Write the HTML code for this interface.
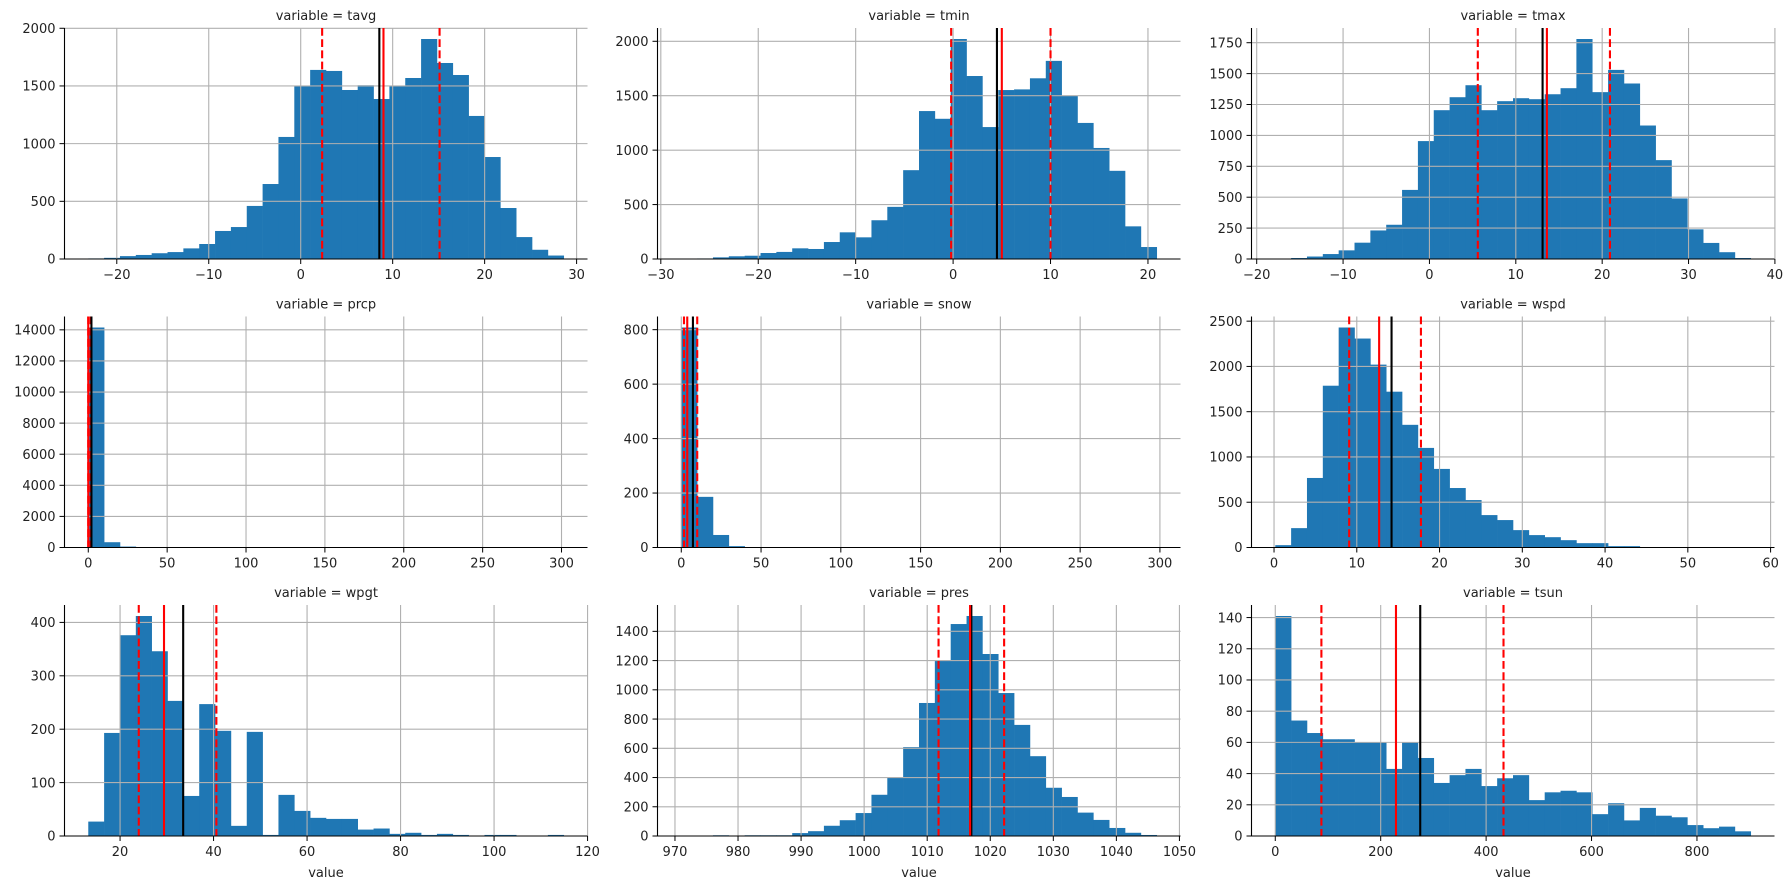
<!DOCTYPE html>
<html><head><meta charset="utf-8"><title>Weather variable histograms</title>
<style>
html,body{margin:0;padding:0;background:#fff;}
svg{display:block;font-family:"DejaVu Sans","Liberation Sans",sans-serif;}
</style></head>
<body>
<svg id="chart" width="1790" height="889" viewBox="0 0 1790 889" xmlns="http://www.w3.org/2000/svg"></svg>
<script>
// ---- data ----
const tavgCounts=[5,10,25,35,50,60,92,130,243,277,460,650,1058,1497,1639,1630,1465,1506,1387,1497,1569,1907,1699,1595,1240,884,442,190,80,30];
const tavgRange=[-23.1,28.6];
const tavgStats=[2.33,9.0,8.55,15.1];
const tavgXTicks=[-20,-10,0,10,20,30];
const tavgYTicks=[0,500,1000,1500,2000];

const tminCounts=[3,5,15,25,30,55,65,98,92,156,245,199,356,479,816,1359,1288,2021,1681,1212,1552,1558,1660,1820,1500,1250,1020,810,300,110];
const tminRange=[-27.9,20.9];
const tminStats=[-0.2,5.0,4.5,10.0];
const tminXTicks=[-30,-20,-10,0,10,20];
const tminYTicks=[0,500,1000,1500,2000];

const tmaxCounts=[3,8,20,40,70,132,231,277,559,954,1204,1309,1406,1204,1277,1301,1293,1333,1382,1780,1350,1530,1420,1080,800,490,240,130,55,8];
const tmaxRange=[-17.85,37.2];
const tmaxStats=[5.6,13.6,13.1,20.9];
const tmaxXTicks=[-20,-10,0,10,20,30,40];
const tmaxYTicks=[0,250,500,750,1000,1250,1500,1750];

const prcpCounts=[14150,340,60,10,3,1,0,0,0,0,0,0,0,0,0,0,0,0,0,0,0,0,0,0,0,0,0,0,0,1];
const prcpRange=[0,301.4];
const prcpStats=[0,0,2.0,1.5];
const prcpXTicks=[0,50,100,150,200,250,300];
const prcpYTicks=[0,2000,4000,6000,8000,10000,12000,14000];

const snowCounts=[808,186,46,5,1,0,0,0,0,0,0,0,0,0,0,0,0,0,0,0,0,0,0,0,0,0,0,0,0,1];
const snowRange=[0,298];
const snowStats=[1.7,3.75,7.3,10.0];
const snowXTicks=[0,50,100,150,200,250,300];
const snowYTicks=[0,200,400,600,800];

const wspdCounts=[26,214,768,1787,2430,2308,2020,1721,1355,1100,868,657,524,358,303,192,137,114,81,48,48,15,15,5,3,2,1,1,0,1];
const wspdRange=[0.15,57.6];
const wspdStats=[9.08,12.7,14.2,17.75];
const wspdXTicks=[0,10,20,30,40,50,60];
const wspdYTicks=[0,500,1000,1500,2000,2500];

const wpgtCounts=[27,193,376,412,346,253,75,247,197,19,195,2,77,47,34,32,32,12,14,4,6,2,4,2,0,2,2,0,0,2];
const wpgtRange=[13.2,114.9];
const wpgtStats=[24.0,29.4,33.5,40.6];
const wpgtXTicks=[20,40,60,80,100,120];
const wpgtYTicks=[0,100,200,300,400];

const presCounts=[0,1,5,0,5,5,5,20,33,70,108,157,282,400,608,910,1200,1450,1505,1245,978,760,546,330,267,160,110,55,22,7];
const presRange=[971.0,1046.4];
const presStats=[1011.8,1016.8,1017.0,1022.2];
const presXTicks=[970,980,990,1000,1010,1020,1030,1040,1050];
const presYTicks=[0,200,400,600,800,1000,1200,1400];

const tsunCounts=[141,74,66,62,62,60,60,43,60,50,34,39,43,32,37,39,23,28,29,28,14,21,10,18,13,12,7,5,6,3];
const tsunRange=[0,902];
const tsunStats=[87.5,229,275,433];
const tsunXTicks=[0,200,400,600,800];
const tsunYTicks=[0,20,40,60,80,100,120,140];

const variableNames=['tavg','tmin','tmax','prcp','snow','wspd','wpgt','pres','tsun'];

// ---- layout ----
const svg=document.getElementById('chart');
const NS='http://www.w3.org/2000/svg';
const colLeft=[64.5,657.5,1251.5], rowTop=[28,316.5,605], axW=523, axH=231;

function mk(tag,attrs,parent){const e=document.createElementNS(NS,tag);for(const k in attrs)e.setAttribute(k,attrs[k]);(parent||svg).appendChild(e);return e;}

function drawPanel(idx,name,counts,range,stats,xticks,yticks){
  const col=idx%3,row=Math.floor(idx/3);
  const x0=colLeft[col],y0=rowTop[row];
  const g=mk('g',{});
  
  
  const D=range[1]-range[0],xlo=range[0]-0.05*D,xhi=range[1]+0.05*D;
  const ymax=Math.max(...counts)*1.05;
  const sx=v=>x0+(v-xlo)/(xhi-xlo)*axW;
  const sy=c=>y0+axH-c/ymax*axH;
  const bw=D/counts.length;
  // bars
  counts.forEach((c,i)=>{
    if(c<=0)return;
    const xa=sx(range[0]+i*bw),xb=sx(range[0]+(i+1)*bw);
    const r=mk('rect',{x:xa,y:sy(c),width:xb-xa+0.3,height:y0+axH-sy(c),fill:'#1f77b4'},g);
    
    
  });
  // grid
  xticks.forEach(t=>{const x=sx(t);if(x<x0-1||x>x0+axW+1)return;
    const l=mk('line',{x1:x,x2:x,y1:y0,y2:y0+axH,stroke:'#b0b0b0','stroke-width':1.1},g);
    
    });
  yticks.forEach(t=>{const y=sy(t);
    const l=mk('line',{x1:x0,x2:x0+axW,y1:y,y2:y,stroke:'#b0b0b0','stroke-width':1.1},g);
    
    });
  // stat lines: q1, median, mean, q3
  const styles=[['red','7.8,3.4','quartile-25-line'],['red','','median-line'],['black','','mean-line'],['red','7.8,3.4','quartile-75-line']];
  const order=[0,3,2,1];
  order.forEach(k=>{const x=sx(stats[k]);const s=styles[k];
    const a={x1:x,x2:x,y1:y0,y2:y0+axH,stroke:s[0],'stroke-width':2.1};
    if(s[1])a['stroke-dasharray']=s[1];
    const l=mk('line',a,g);
    
    });
  // spines
  const sp=mk('path',{d:`M${x0},${y0}V${y0+axH}H${x0+axW}`,fill:'none',stroke:'#000','stroke-width':1.1},g);
  
  
  // ticks & labels
  xticks.forEach(t=>{const x=sx(t);if(x<x0-1||x>x0+axW+1)return;
    mk('line',{x1:x,x2:x,y1:y0+axH,y2:y0+axH+5,stroke:'#000','stroke-width':1},g);
    const tx=mk('text',{x:x,y:y0+axH+20,'text-anchor':'middle','font-size':13,fill:'#222'},g);
    tx.textContent=String(t).replace('-','\u2212');
    
    });
  yticks.forEach(t=>{const y=sy(t);
    mk('line',{x1:x0-5,x2:x0,y1:y,y2:y,stroke:'#000','stroke-width':1},g);
    const tx=mk('text',{x:x0-9,y:y+4.7,'text-anchor':'end','font-size':13,fill:'#222'},g);
    tx.textContent=String(t);
    
    });
  const tt=mk('text',{x:x0+axW/2,y:y0-8,'text-anchor':'middle','font-size':13,fill:'#222'},g);
  tt.textContent='variable = '+name;
  
  
  if(row===2){
    const xl=mk('text',{x:x0+axW/2,y:877,'text-anchor':'middle','font-size':13,fill:'#222'},g);
    xl.textContent='value';
    
    
  }
}
drawPanel(0,variableNames[0],tavgCounts,tavgRange,tavgStats,tavgXTicks,tavgYTicks);
drawPanel(1,variableNames[1],tminCounts,tminRange,tminStats,tminXTicks,tminYTicks);
drawPanel(2,variableNames[2],tmaxCounts,tmaxRange,tmaxStats,tmaxXTicks,tmaxYTicks);
drawPanel(3,variableNames[3],prcpCounts,prcpRange,prcpStats,prcpXTicks,prcpYTicks);
drawPanel(4,variableNames[4],snowCounts,snowRange,snowStats,snowXTicks,snowYTicks);
drawPanel(5,variableNames[5],wspdCounts,wspdRange,wspdStats,wspdXTicks,wspdYTicks);
drawPanel(6,variableNames[6],wpgtCounts,wpgtRange,wpgtStats,wpgtXTicks,wpgtYTicks);
drawPanel(7,variableNames[7],presCounts,presRange,presStats,presXTicks,presYTicks);
drawPanel(8,variableNames[8],tsunCounts,tsunRange,tsunStats,tsunXTicks,tsunYTicks);
</script>
</body></html>
